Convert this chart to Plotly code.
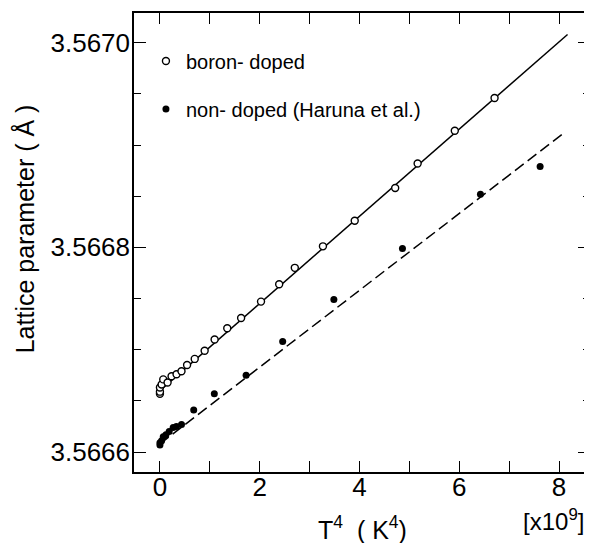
import plotly.graph_objects as go

# ── data (x in units of 1e9 K^4, lattice parameter in Å) ──────────
boron_t4 = [0.0, 0.0, 0.0, 0.034, 0.066, 0.153, 0.233, 0.333, 0.432, 0.544,
            0.697, 0.896, 1.096, 1.349, 1.627, 2.026, 2.39, 2.703, 3.267,
            3.904, 4.715, 5.165, 5.91, 6.707]
boron_a = [3.566657, 3.566659, 3.566663, 3.566666, 3.566671, 3.566668,
           3.566674, 3.566676, 3.566679, 3.566685, 3.566691, 3.566699,
           3.566710, 3.566721, 3.566731, 3.566747, 3.566764, 3.566780,
           3.566801, 3.566826, 3.566858, 3.566882, 3.566914, 3.566946]

nondoped_t4 = [0.0, 0.0, 0.034, 0.066, 0.12, 0.185, 0.265, 0.33, 0.432,
               0.677, 1.09, 1.727, 2.46, 3.486, 4.861, 6.424, 7.62]
nondoped_a = [3.566607, 3.566609, 3.566611, 3.566615, 3.566617, 3.566620,
              3.566624, 3.566625, 3.566627, 3.566641, 3.566657, 3.566675,
              3.566708, 3.566749, 3.566799, 3.566852, 3.566879]

# fitted lines (end points)
boron_fit_t4 = [0.0, 8.17]
boron_fit_a = [3.566660, 3.567008]
nondoped_fit_t4 = [0.0, 8.13]
nondoped_fit_a = [3.566608, 3.566913]

FONT = 'Liberation Sans, Arial, Helvetica, sans-serif'

fig = go.Figure()

# ── fit lines ─────────────────────────────────────────────────────
fig.add_trace(go.Scatter(
    x=boron_fit_t4, y=boron_fit_a, mode='lines',
    line=dict(color='black', width=1.5), showlegend=False, hoverinfo='skip',
))
fig.add_trace(go.Scatter(
    x=nondoped_fit_t4, y=nondoped_fit_a, mode='lines',
    line=dict(color='black', width=1.5, dash='11px,5px'),
    showlegend=False, hoverinfo='skip',
))

# ── data points ───────────────────────────────────────────────────
fig.add_trace(go.Scatter(
    x=boron_t4, y=boron_a, mode='markers', name='boron- doped',
    marker=dict(symbol='circle', size=7, color='white',
                line=dict(color='black', width=1.4)),
    legendgroup='a',
))
fig.add_trace(go.Scatter(
    x=nondoped_t4, y=nondoped_a, mode='markers',
    name='non- doped (Haruna et al.)',
    marker=dict(symbol='circle', size=7, color='black',
                line=dict(color='black', width=0)),
    legendgroup='b',
))

axis_common = dict(
    showline=True, linecolor='black', linewidth=1.5, mirror='ticks',
    ticks='inside', tickcolor='black', tickwidth=1.3,
    showgrid=False, zeroline=False,
    tickfont=dict(size=26, color='black', family=FONT),
)

fig.update_xaxes(
    range=[-0.52, 8.62], tickmode='array',
    tickvals=[0, 2, 4, 6, 8], ticktext=['0', '2', '4', '6', '8'],
    ticklen=11, ticklabelstandoff=-9,
    minor=dict(dtick=1, tick0=0, ticks='inside', ticklen=11,
               tickcolor='black', tickwidth=1.3),
    **axis_common,
)
fig.update_yaxes(
    range=[3.5665805, 3.567029], tickmode='array',
    tickvals=[3.5666, 3.5668, 3.5670],
    ticktext=['3.5666', '3.5668', '3.5670'],
    ticklen=12, ticklabelstandoff=-3,
    minor=dict(dtick=0.00005, tick0=3.5666, ticks='inside', ticklen=7,
               tickcolor='black', tickwidth=1.3),
    **axis_common,
)

# ── axis titles ───────────────────────────────────────────────────
fig.add_annotation(
    text='Lattice parameter ( Å )', textangle=-90,
    xref='paper', yref='paper', x=-0.241, y=0.529,
    xanchor='center', yanchor='middle', showarrow=False,
    font=dict(size=25, color='black', family=FONT),
)
fig.add_annotation(
    text='T<sup>4</sup>  ( K<sup>4</sup>)',
    xref='paper', yref='paper', x=0.5, y=-0.122,
    xanchor='center', yanchor='middle', showarrow=False,
    font=dict(size=25, color='black', family=FONT),
)
fig.add_annotation(
    text='[x10<sup>9</sup>]',
    xref='paper', yref='paper', x=0.921, y=-0.1046,
    xanchor='center', yanchor='middle', showarrow=False,
    font=dict(size=24, color='black', family=FONT),
)

# page body adds an 8px margin, so the figure is 8px smaller than the window
fig.update_layout(
    width=584, height=535,
    margin=dict(l=126, r=0, t=5, b=71),
    paper_bgcolor='white', plot_bgcolor='white',
    font=dict(family=FONT, color='black'),
    showlegend=True,
    legend=dict(
        x=0.0262, y=0.938, xanchor='left', yanchor='top',
        bgcolor='rgba(0,0,0,0)', borderwidth=0,
        font=dict(size=20, color='black', family=FONT),
        traceorder='grouped', tracegroupgap=19,
    ),
)

fig.write_html('out.html')
